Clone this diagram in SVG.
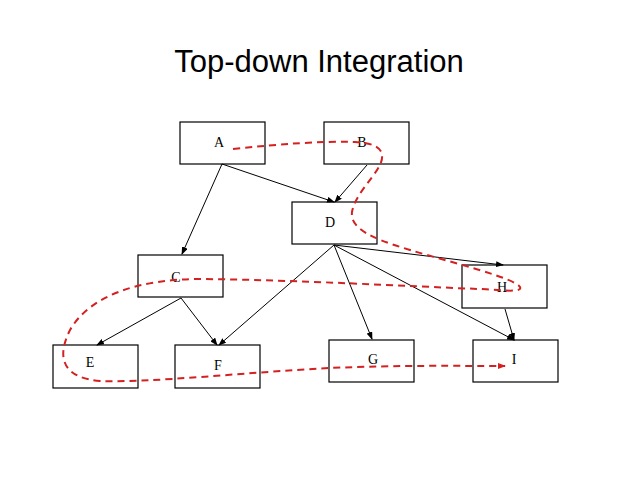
<svg xmlns="http://www.w3.org/2000/svg" width="638" height="479" viewBox="0 0 638 479">
<defs>
<marker id="ah" markerWidth="8" markerHeight="6" refX="7" refY="3" orient="auto" markerUnits="userSpaceOnUse"><path d="M0,0 L8,3 L0,6 z" fill="#000"/></marker>
<marker id="rh" markerWidth="8" markerHeight="6" refX="7" refY="3" orient="auto" markerUnits="userSpaceOnUse"><path d="M0,0 L8,3 L0,6 z" fill="#d42020"/></marker>
</defs>
<style>
.n rect{fill:#fff;stroke:#000;stroke-width:1.2}
.n text{font-family:"Liberation Serif",serif;font-size:14px;text-anchor:middle}
.e line{stroke:#000;stroke-width:1;marker-end:url(#ah)}
</style>
<rect width="638" height="479" fill="#fff"/>
<text x="319" y="72" font-family="Liberation Sans,sans-serif" font-size="31" text-anchor="middle">Top-down Integration</text>
<g class="n" id="A"><rect x="180" y="122" width="85" height="42"/><text x="219" y="147">A</text></g>
<g class="n" id="B"><rect x="324" y="122" width="85" height="42"/><text x="362" y="147">B</text></g>
<g class="n" id="D"><rect x="292" y="202" width="85" height="42"/><text x="330" y="227">D</text></g>
<g class="n" id="C"><rect x="138" y="255" width="85" height="42"/><text x="176" y="282">C</text></g>
<g class="n" id="H"><rect x="462" y="265" width="85" height="43"/><text x="502" y="292">H</text></g>
<g class="n" id="E"><rect x="53" y="345" width="85" height="43"/><text x="90" y="367">E</text></g>
<g class="n" id="F"><rect x="175" y="345" width="85" height="43"/><text x="218" y="370">F</text></g>
<g class="n" id="G"><rect x="329" y="340" width="85" height="42"/><text x="373" y="364">G</text></g>
<g class="n" id="I"><rect x="473" y="340" width="85" height="42"/><text x="514" y="364">I</text></g>
<g class="e" id="connectors">
<line x1="222" y1="164" x2="182" y2="254"/>
<line x1="222" y1="164" x2="334" y2="202"/>
<line x1="367" y1="165" x2="335" y2="202"/>
<line x1="334" y1="245" x2="219" y2="345"/>
<line x1="334" y1="245" x2="372" y2="339"/>
<line x1="334" y1="245" x2="514" y2="340"/>
<line x1="334" y1="245" x2="503" y2="265"/>
<line x1="181" y1="298" x2="97" y2="345"/>
<line x1="181" y1="298" x2="217" y2="345"/>
<line x1="505" y1="309" x2="514" y2="340"/>
<path d="M233,149 C280,144 320,141 355,142 C380,143 386,152 380,165 C372,180 355,195 352,212 C350,228 370,238 410,250 C450,262 515,278 520,287 C523,293 500,290 480,289 C400,286 300,280 200,279 C140,279 90,295 70,330 C55,360 65,378 100,381 C150,383 250,372 330,368 C400,365 460,366 505,366" fill="none" stroke="#d42020" stroke-width="2" stroke-dasharray="7,5" marker-end="url(#rh)"/>
</g>
</svg>
